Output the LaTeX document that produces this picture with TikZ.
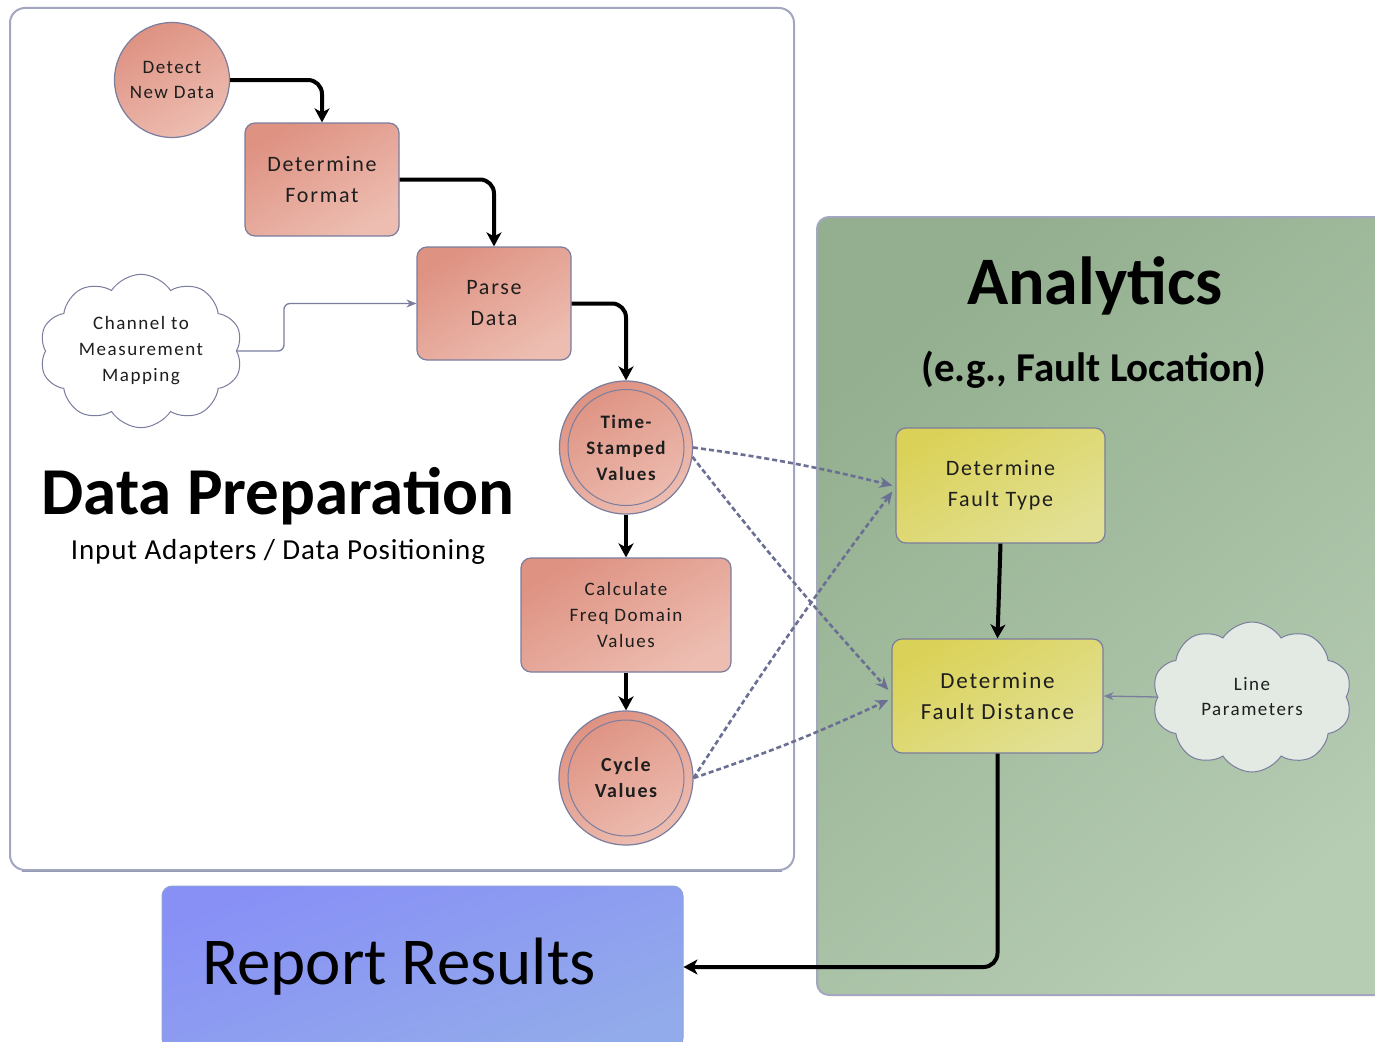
\documentclass[tikz,border=0pt]{standalone}
\usepackage{fontspec}
\setmainfont{Carlito}
\newfontfamily\boxfont[LetterSpace=8]{Carlito}
\newfontfamily\widefont[LetterSpace=3]{Carlito}
\usetikzlibrary{arrows.meta,shapes.symbols,shapes.geometric,calc}

\definecolor{salA}{HTML}{DE9282}
\definecolor{salB}{HTML}{EDBDB1}
\definecolor{yelA}{HTML}{DAD258}
\definecolor{yelB}{HTML}{E2E094}
\definecolor{grnA}{HTML}{93AF8F}
\definecolor{grnB}{HTML}{B6CCB3}
\definecolor{bluA}{HTML}{8890F6}
\definecolor{bluB}{HTML}{92ABEA}
\definecolor{edge}{HTML}{7A7D9E}
\definecolor{panel}{HTML}{A2A6BE}
\definecolor{dotc}{HTML}{6A6F93}
\definecolor{txt}{HTML}{1E1E1E}
\definecolor{cloudfill}{HTML}{E3EAE3}

\tikzset{
  proc/.style={draw=edge, line width=1.2pt, rounded corners=10pt,
    top color=salA, bottom color=salB, shading angle=30,
    align=center, text=txt, inner sep=0pt},
  evt/.style={circle, draw=edge, line width=1.2pt,
    top color=salA, bottom color=salB, shading angle=30,
    align=center, text=txt, inner sep=0pt},
  ana/.style={draw=edge, line width=1.2pt, rounded corners=10pt,
    top color=yelA, bottom color=yelB, shading angle=30,
    align=center, text=txt, inner sep=0pt},
  puff/.style={cloud, cloud puffs=10, cloud puff arc=115, aspect=1.35,
    draw=edge, line width=1pt, align=center, text=txt, inner sep=0pt},
  flow/.style={line width=4pt, draw=black, rounded corners=14pt,
    -{Stealth[length=14pt,width=15pt,inset=4pt]}},
  feed/.style={line width=1.3pt, draw=edge, rounded corners=6pt,
    -{Stealth[length=10pt,width=8pt]}},
  link/.style={line width=2.6pt, draw=dotc, dash pattern=on 5pt off 3pt,
    -{Stealth[length=13pt,width=11pt]}},
}

\begin{document}
\begin{tikzpicture}[x=1pt,y=-1pt]
\useasboundingbox (0,0) rectangle (1375,1041);
\fill[white] (0,0) rectangle (1375,1041);

% Data preparation panel
\draw[panel!80!black!40!panel, line width=3pt] (22,870.5) -- (782,870.5);
\draw[panel, line width=2pt, fill=white, rounded corners=15pt] (10,8) rectangle (794,870);

% Analytics panel (runs off the right edge)
\begin{scope}
  \clip (0,0) rectangle (1375,1041);
  \fill[top color=grnA, bottom color=grnB, shading angle=40, rounded corners=12pt]
    (817,217) rectangle (1400,995);
  \draw[panel, line width=2pt, rounded corners=12pt]
    (1400,217) -- (817,217) -- (817,995) -- (1400,995);
  % Report results box (runs off the bottom edge)
  \node[draw=bluB!80!edge, line width=1pt, rounded corners=10pt,
        top color=bluA, bottom color=bluB, shading angle=20,
        minimum width=521pt, minimum height=162pt, text width=441pt,
        inner xsep=40pt, align=flush left, text=black,
        font=\fontsize{67}{72}\selectfont] (rep) at (422.5,967) {Report Results};
\end{scope}

% Titles
\node[font=\bfseries\fontsize{67}{72}\selectfont, text=black] (tprep) at (278,496) {Data Preparation};
\node[font=\widefont\fontsize{29}{32}\selectfont, text=black] (sprep) at (278,552) {Input Adapters / Data Positioning};
\node[font=\bfseries\fontsize{68}{72}\selectfont, text=black] (tana) at (1095,286) {Analytics};
\node[font=\bfseries\fontsize{41}{46}\selectfont, text=black] (sana) at (1094,370) {(e.g., Fault Location)};

% Process nodes
\node[evt, minimum size=115pt, font=\boxfont\fontsize{19}{25}\selectfont] (detect) at (172,80) {Detect\\New Data};
\node[proc, minimum width=154pt, minimum height=113pt, font=\boxfont\fontsize{22}{31}\selectfont] (fmt) at (322,179.5) {Determine\\Format};
\node[proc, minimum width=154pt, minimum height=113pt, font=\boxfont\fontsize{22}{31}\selectfont] (parse) at (494,303.5) {Parse\\Data};
\node[puff, fill=white, minimum width=203pt, minimum height=150pt, font=\boxfont\fontsize{19}{26}\selectfont] (chan) at (141,351) {Channel to\\Measurement\\Mapping};
\node[evt, minimum size=133pt, font=\boxfont\bfseries\fontsize{19}{26}\selectfont] (ts) at (626,447.5) {Time-\\Stamped\\Values};
\draw[edge, line width=1pt] (ts.center) circle[radius=58pt];
\node[proc, minimum width=210pt, minimum height=114pt, font=\boxfont\fontsize{19}{26}\selectfont] (calc) at (626,615) {Calculate\\Freq Domain\\Values};
\node[evt, minimum size=134pt, font=\boxfont\bfseries\fontsize{20}{26}\selectfont] (cyc) at (626,778) {Cycle\\Values};
\draw[edge, line width=1pt] (cyc.center) circle[radius=58pt];

% Analytics nodes
\node[ana, minimum width=209pt, minimum height=115pt, font=\boxfont\fontsize{22}{31}\selectfont] (ft) at (1000.5,485.5) {Determine\\Fault Type};
\node[ana, minimum width=211pt, minimum height=114pt, font=\boxfont\fontsize{23}{31}\selectfont] (fd) at (997.5,696) {Determine\\Fault Distance};
\node[puff, fill=cloudfill, minimum width=200pt, minimum height=150pt, font=\boxfont\fontsize{19}{25}\selectfont] (line) at (1252,697) {Line\\Parameters};

% Main flow
\draw[flow] (detect.east) -| (fmt.north);
\draw[flow] (fmt.east) -| (parse.north);
\draw[flow] (parse.east) -| (ts.north);
\draw[flow] (ts.south) -- (calc.north);
\draw[flow] (calc.south) -- (cyc.north);
\draw[flow] (ft.south) -- (fd.north);
\draw[flow] (fd.south) |- (rep.east);

% Reference data inputs
\draw[feed] (chan.east) -- ++(47,0) |- (parse.west);
\draw[feed] (line.west) -- (fd.east);

% Value feeds into analytics
\draw[link] (ts.east) to[bend left=3] ($(ft.west)+(-3,0)$);
\draw[link] (ts.-8) to[bend right=2] ($(fd.west)+(-3,-6)$);
\draw[link] (cyc.east) to[bend left=2] ($(ft.west)+(-3,6)$);
\draw[link] (cyc.east) to[bend right=3] ($(fd.west)+(-3,4)$);
\end{tikzpicture}
\end{document}
